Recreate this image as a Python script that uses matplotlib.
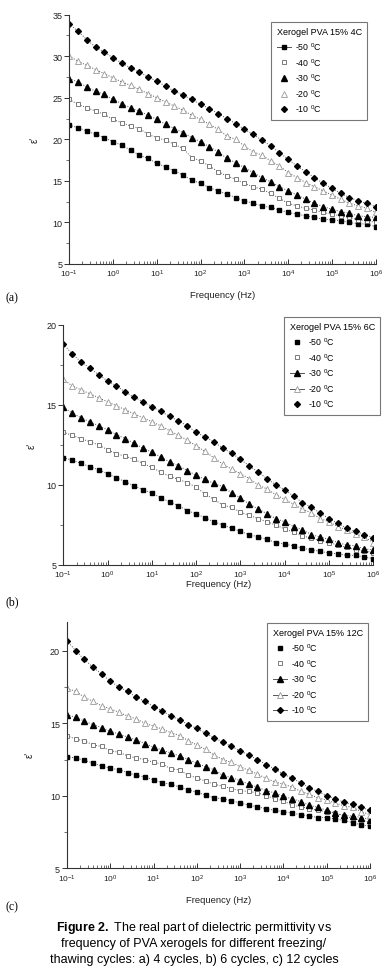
import numpy as np
import matplotlib
matplotlib.use('Agg')
import matplotlib.pyplot as plt
from matplotlib.lines import Line2D
from matplotlib.ticker import LogLocator, MultipleLocator, NullFormatter

plt.rcParams['font.family'] = 'Liberation Sans'
plt.rcParams['mathtext.fontset'] = 'custom'
plt.rcParams['mathtext.rm'] = 'Liberation Sans'
plt.rcParams['mathtext.it'] = 'Liberation Sans:italic'
plt.rcParams['mathtext.bf'] = 'Liberation Sans:bold'

# measurement frequencies (Hz), 5 points per decade
freq = np.logspace(-1, 6, 36)
temps = ['-50', '-40', '-30', '-20', '-10']

# (a) 4 cycles
a_m50 = [21.7, 21.4, 21.0, 20.6, 20.2, 19.7, 19.3, 18.7, 18.1, 17.7, 17.1, 16.7, 16.2, 15.7, 15.1, 14.7, 14.2, 13.8,
         13.4, 13.0, 12.6, 12.3, 12.0, 11.8, 11.5, 11.2, 11.0, 10.8, 10.6, 10.4, 10.3, 10.2, 10.0, 9.85, 9.8, 9.5]
a_m40 = [24.8, 24.2, 23.8, 23.4, 23.0, 22.4, 22.0, 21.6, 21.3, 20.6, 20.2, 19.9, 19.4, 18.9, 17.8, 17.4, 16.8, 16.1,
         15.6, 15.2, 14.7, 14.3, 14.0, 13.5, 12.9, 12.3, 12.0, 11.7, 11.5, 11.2, 11.0, 10.8, 10.6, 10.3, 10.2, 10.0]
a_m30 = [27.3, 26.9, 26.3, 25.8, 25.4, 24.8, 24.3, 23.8, 23.4, 22.9, 22.4, 21.8, 21.3, 20.8, 20.2, 19.7, 19.1, 18.5,
         17.7, 17.2, 16.6, 16.0, 15.4, 14.9, 14.3, 13.8, 13.3, 12.8, 12.3, 11.9, 11.6, 11.3, 11.1, 10.8, 10.7, 10.6]
a_m20 = [30.0, 29.4, 28.9, 28.4, 27.9, 27.4, 26.9, 26.5, 26.0, 25.5, 25.0, 24.5, 24.0, 23.5, 22.9, 22.4, 21.8, 21.2,
         20.4, 20.0, 19.2, 18.5, 18.1, 17.4, 16.8, 16.0, 15.4, 14.8, 14.3, 13.8, 13.3, 12.8, 12.3, 12.0, 11.7, 11.2]
a_m10 = [33.9, 33.0, 32.0, 31.1, 30.5, 29.8, 29.2, 28.6, 28.1, 27.5, 27.0, 26.4, 25.8, 25.3, 24.8, 24.2, 23.7, 23.1,
         22.5, 21.9, 21.2, 20.6, 19.9, 19.2, 18.4, 17.6, 16.8, 16.1, 15.4, 14.7, 14.1, 13.5, 13.0, 12.6, 12.3, 11.9]

# (b) 6 cycles
b_m50 = [11.7, 11.55, 11.35, 11.15, 10.95, 10.7, 10.45, 10.2, 9.95, 9.7, 9.5, 9.2, 8.95, 8.7, 8.4, 8.2, 7.95, 7.7,
         7.5, 7.3, 7.1, 6.9, 6.75, 6.6, 6.4, 6.3, 6.2, 6.05, 5.95, 5.85, 5.75, 5.7, 5.6, 5.6, 5.5, 5.4]
b_m40 = [13.3, 13.1, 12.9, 12.7, 12.5, 12.2, 11.95, 11.8, 11.6, 11.35, 11.1, 10.8, 10.55, 10.35, 10.15, 9.85, 9.45, 9.1,
         8.75, 8.6, 8.3, 8.1, 7.9, 7.7, 7.5, 7.25, 7.05, 6.8, 6.7, 6.5, 6.4, 6.25, 6.1, 5.95, 5.9, 5.75]
b_m30 = [14.85, 14.5, 14.2, 13.95, 13.7, 13.45, 13.15, 12.9, 12.6, 12.3, 12.05, 11.75, 11.45, 11.2, 10.9, 10.6, 10.35, 10.1,
         9.9, 9.5, 9.2, 8.8, 8.5, 8.2, 7.9, 7.7, 7.4, 7.2, 6.9, 6.75, 6.6, 6.4, 6.25, 6.2, 6.0, 5.95]
b_m20 = [16.6, 16.2, 15.95, 15.7, 15.45, 15.2, 14.95, 14.7, 14.45, 14.2, 13.95, 13.7, 13.4, 13.1, 12.8, 12.45, 12.1, 11.7,
         11.3, 11.0, 10.7, 10.4, 10.0, 9.75, 9.4, 9.1, 8.8, 8.5, 8.25, 7.9, 7.7, 7.4, 7.2, 6.95, 6.75, 6.4]
b_m10 = [18.8, 18.2, 17.7, 17.3, 16.9, 16.5, 16.2, 15.8, 15.5, 15.2, 14.9, 14.6, 14.3, 14.0, 13.7, 13.3, 13.0, 12.7,
         12.3, 12.0, 11.6, 11.2, 10.8, 10.4, 10.0, 9.7, 9.3, 8.9, 8.6, 8.25, 7.9, 7.6, 7.3, 7.1, 6.9, 6.7]

# (c) 12 cycles
c_m50 = [12.7, 12.6, 12.45, 12.25, 12.05, 11.9, 11.8, 11.6, 11.4, 11.3, 11.1, 10.9, 10.8, 10.6, 10.4, 10.25, 10.05, 9.85,
         9.8, 9.65, 9.5, 9.35, 9.25, 9.1, 9.0, 8.9, 8.8, 8.7, 8.6, 8.5, 8.5, 8.4, 8.3, 8.15, 8.0, 7.9]
c_m40 = [14.15, 13.9, 13.8, 13.5, 13.4, 13.1, 13.0, 12.75, 12.6, 12.5, 12.3, 12.2, 11.85, 11.8, 11.4, 11.25, 11.0, 10.8,
         10.65, 10.5, 10.35, 10.3, 10.2, 10.0, 9.8, 9.65, 9.35, 9.25, 9.1, 9.0, 8.9, 8.8, 8.6, 8.45, 8.3, 8.2]
c_m30 = [15.6, 15.4, 15.15, 14.9, 14.7, 14.45, 14.25, 14.05, 13.85, 13.6, 13.35, 13.15, 12.95, 12.75, 12.5, 12.25, 12.0, 11.8,
         11.4, 11.25, 11.05, 10.8, 10.6, 10.35, 10.2, 9.95, 9.8, 9.6, 9.35, 9.2, 9.0, 8.8, 8.65, 8.6, 8.5, 8.35]
c_m20 = [17.4, 17.2, 16.8, 16.5, 16.2, 16.0, 15.75, 15.5, 15.3, 15.0, 14.8, 14.6, 14.35, 14.15, 13.8, 13.5, 13.2, 12.8,
         12.5, 12.3, 12.0, 11.75, 11.5, 11.2, 10.95, 10.8, 10.6, 10.3, 10.1, 9.85, 9.7, 9.5, 9.3, 9.2, 8.9, 8.7]
c_m10 = [20.7, 20.0, 19.4, 18.85, 18.4, 17.9, 17.5, 17.2, 16.8, 16.5, 16.15, 15.85, 15.5, 15.25, 14.9, 14.65, 14.3, 14.0,
         13.7, 13.4, 13.1, 12.8, 12.5, 12.15, 11.85, 11.5, 11.2, 10.9, 10.55, 10.3, 10.0, 9.8, 9.55, 9.4, 9.2, 9.0]

# marker styles for -50 .. -10
styles = [dict(marker='s', ms=3.0, mfc='black', mec='black'),
          dict(marker='s', ms=3.0, mfc='white', mec='#666666', mew=0.6),
          dict(marker='^', ms=3.8, mfc='black', mec='black'),
          dict(marker='^', ms=3.8, mfc='white', mec='#999999', mew=0.6),
          dict(marker='D', ms=3.0, mfc='black', mec='black')]

fig = plt.figure(figsize=(3.88, 9.70), dpi=100)
W, H = 388.0, 970.0

# pixel boxes: left, right, top, bottom
panels = [
    dict(box=(69.3, 375.7, 15.7, 265.0), ylim=(5, 35), major=5,
         data=[a_m50, a_m40, a_m30, a_m20, a_m10], title='Xerogel PVA 15% 4C',
         lines=[True, False, False, False, False], leg=(367, 23), tag='(a)', tagy=298, xly=296, yl=(35, 140)),
    dict(box=(63.3, 373.3, 326.0, 566.0), ylim=(5, 20), major=5,
         data=[b_m50, b_m40, b_m30, b_m20, b_m10], title='Xerogel PVA 15% 6C',
         lines=[False, False, True, True, False], leg=(380, 318), tag='(b)', tagy=602, xly=585, yl=(32, 446)),
    dict(box=(67.0, 370.0, 622.7, 869.3), ylim=(5, 22), major=5,
         data=[c_m50, c_m40, c_m30, c_m20, c_m10], title='Xerogel PVA 15% 12C',
         lines=[False, False, True, True, True], leg=(368, 624), tag='(c)', tagy=907, xly=901, yl=(30, 755)),
]

for p in panels:
    l, r, t, b = p['box']
    ax = fig.add_axes([l / W, 1 - b / H, (r - l) / W, (b - t) / H])
    for vals, st in zip(p['data'], styles):
        ax.plot(freq, vals, ls=':', lw=0.7, color='#555555', **st)
    ax.set_xscale('log')
    ax.set_xlim(0.1, 1e6)
    ax.set_ylim(*p['ylim'])
    ax.yaxis.set_major_locator(MultipleLocator(p['major']))
    ax.yaxis.set_minor_locator(MultipleLocator(p['major'] / 2))
    ax.xaxis.set_major_locator(LogLocator(base=10, numticks=20))
    ax.xaxis.set_minor_locator(LogLocator(base=10, subs=np.arange(2, 10), numticks=20))
    ax.xaxis.set_minor_formatter(NullFormatter())
    ax.spines['top'].set_visible(False)
    ax.spines['right'].set_visible(False)
    for s in ('left', 'bottom'):
        ax.spines[s].set_linewidth(0.8)
        ax.spines[s].set_color('#333333')
    ax.tick_params(axis='x', which='both', direction='in', labelsize=6, pad=3, colors='#333333')
    ax.tick_params(axis='x', which='major', length=3.5, width=0.7)
    ax.tick_params(axis='x', which='minor', length=2, width=0.5)
    ax.tick_params(axis='y', which='both', direction='out', labelsize=6.5, pad=1.5, colors='#333333')
    ax.tick_params(axis='y', which='major', length=3.5, width=0.7)
    ax.tick_params(axis='y', which='minor', length=2, width=0.5)
    for lab in ax.get_xticklabels() + ax.get_yticklabels():
        lab.set_color('#222222')

    handles = []
    for temp, st, ln in zip(temps, styles, p['lines']):
        handles.append(Line2D([], [], ls='-' if ln else 'none', lw=0.7, color='#555555', **st))
    labels = [t + r' $^{0}$C' for t in temps]
    lx, ly = p['leg']
    leg = fig.legend(handles, labels, title=p['title'], loc='upper right',
                     bbox_to_anchor=(lx / W, 1 - ly / H), bbox_transform=fig.transFigure,
                     fontsize=6.3, title_fontsize=6.5, frameon=True, fancybox=False,
                     edgecolor='#777777', framealpha=1, borderaxespad=0, handlelength=1.6,
                     handletextpad=0.5, labelspacing=0.45, borderpad=0.6, alignment='left')
    leg.get_frame().set_linewidth(0.8)

    fig.text((l + r) / 2 / W, 1 - p['xly'] / H, 'Frequency (Hz)', ha='center', va='center', fontsize=6.8,
             color='#222222')
    fig.text(p['yl'][0] / W, 1 - p['yl'][1] / H, "ε'", rotation=90, ha='center', va='center', fontsize=7,
             color='#222222')
    fig.text(5 / W, 1 - p['tagy'] / H, p['tag'], ha='left', va='center', fontsize=8.5, family='Liberation Serif')

fig.text(194 / W, 1 - 928 / H, r'$\mathbf{Figure\ 2.}$ The real part of dielectric permittivity vs',
         ha='center', va='center', fontsize=9)
fig.text(194 / W, 1 - 944 / H, 'frequency of PVA xerogels for different freezing/',
         ha='center', va='center', fontsize=9)
fig.text(194 / W, 1 - 960 / H, 'thawing cycles: a) 4 cycles, b) 6 cycles, c) 12 cycles',
         ha='center', va='center', fontsize=9)

fig.savefig('out.png', dpi=100)
